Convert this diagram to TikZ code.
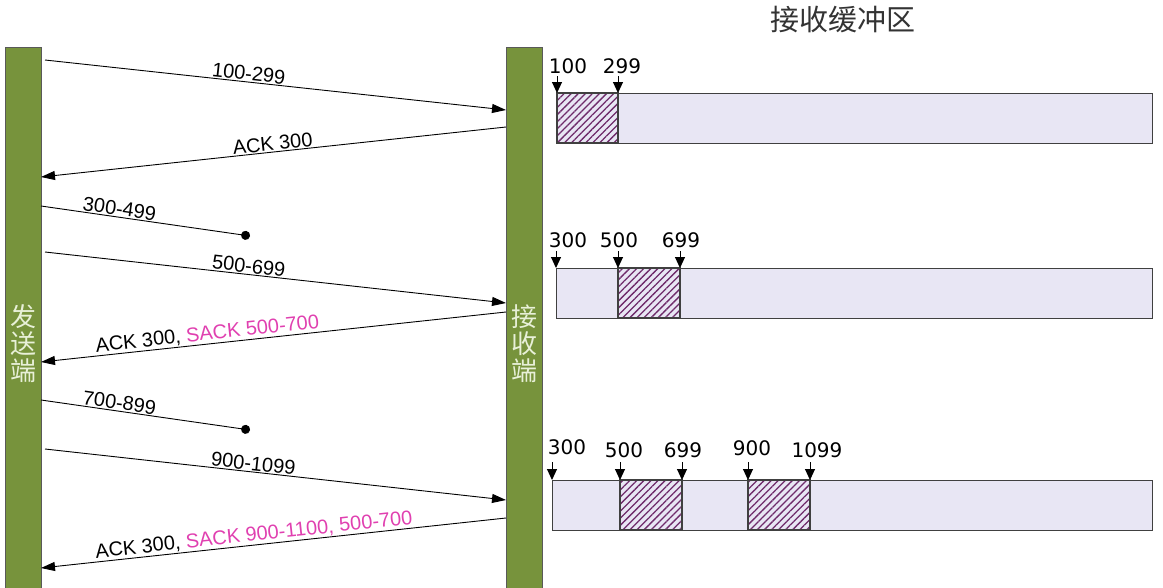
\documentclass[tikz,border=0pt]{standalone}
\usepackage{fontspec}
\setmainfont{Liberation Sans}
\newfontfamily\numfont{DejaVu Sans}
\newfontfamily\cjk{Noto Sans CJK SC}
\usetikzlibrary{arrows.meta, positioning, calc, patterns.meta}
\definecolor{barfill}{HTML}{77933C}
\definecolor{barlabel}{HTML}{E8F0D8}
\definecolor{buffill}{HTML}{E8E6F4}
\definecolor{hatchbg}{HTML}{F2DAF0}
\definecolor{hatchline}{HTML}{6E2A6A}
\definecolor{sackpink}{HTML}{E040B0}

\begin{document}
\begin{tikzpicture}[
    x=1pt, y=-1pt,
    hostbar/.style={draw=gray!70!black, fill=barfill, line width=0.8pt,
                    minimum width=36pt, minimum height=545pt, inner sep=0pt,
                    anchor=north west},
    hostname/.style={text=barlabel, font=\cjk\fontsize{26}{27}\selectfont,
                     align=center, inner sep=0pt},
    msg/.style={-{Triangle[length=14pt, width=9pt]}, line width=0.9pt},
    lost/.style={-{Circle[length=9pt]}, line width=0.9pt},
    msglabel/.style={font=\fontsize{20}{23}\selectfont, inner sep=1pt},
    buffer/.style={draw=black!75, fill=buffill, line width=1.2pt,
                   anchor=north west, minimum height=50pt, inner sep=0pt},
    recvd/.style={draw=black!75, fill=hatchbg, line width=1.2pt,
                  pattern={Lines[angle=45, distance=5pt, line width=1.3pt]},
                  pattern color=hatchline},
    seqno/.style={font=\numfont\fontsize{20}{23}\selectfont, inner sep=0pt},
    tick/.style={-{Triangle[length=11pt, width=10pt]}, line width=1pt},
]
    \useasboundingbox (0,0) rectangle (1163,587);

    % Sender and receiver
    \node[hostbar] (snd) at (5,47) {};
    \node[hostbar] (rcv) at (506,47) {};
    \node[hostname] (sndname) at (23,344) {发\\送\\端};
    \node[hostname] (rcvname) at (524,344) {接\\收\\端};

    % Message end points
    \coordinate (s1) at (45,60);   \coordinate (r1) at (506,110);
    \coordinate (r2) at (506,127); \coordinate (s2) at (41,177);
    \coordinate (s3) at (41,206);  \coordinate (d3) at (250,236);
    \coordinate (s4) at (45,252);  \coordinate (r4) at (506,303);
    \coordinate (r5) at (506,312); \coordinate (s5) at (41,362);
    \coordinate (s6) at (41,400);  \coordinate (d6) at (250,430);
    \coordinate (s7) at (45,449);  \coordinate (r7) at (506,500);
    \coordinate (r8) at (506,518); \coordinate (s8) at (41,568);

    % Messages
    \draw[msg] (s1) -- node[msglabel, sloped, above, pos=0.44] {100-299} (r1);
    \draw[msg] (r2) -- node[msglabel, sloped, above, pos=0.50] {ACK 300} (s2);
    \draw[lost] (s3) -- node[msglabel, sloped, above, pos=0.37] {300-499} (d3);
    \draw[msg] (s4) -- node[msglabel, sloped, above, pos=0.44] {500-699} (r4);
    \draw[msg] (r5) -- node[msglabel, sloped, above, pos=0.64]
        {ACK 300, \textcolor{sackpink}{SACK 500-700}} (s5);
    \draw[lost] (s6) -- node[msglabel, sloped, above, pos=0.37] {700-899} (d6);
    \draw[msg] (s7) -- node[msglabel, sloped, above, pos=0.45] {900-1099} (r7);
    \draw[msg] (r8) -- node[msglabel, sloped, above, pos=0.54]
        {ACK 300, \textcolor{sackpink}{SACK 900-1100, 500-700}} (s8);

    % Receive buffer
    \node[font=\cjk\fontsize{29}{32}\selectfont, text=black!80] (title) at (843,20) {接收缓冲区};

    \node[buffer, minimum width=595pt] (buf1) at (557,93) {};
    \draw[recvd] (557,93) rectangle (618,143);
    \node[seqno] (n100) at (568,66) {100};
    \node[seqno] (n299) at (622,66) {299};
    \coordinate (t100) at (557,76); \coordinate (t299) at (618,76);
    \draw[tick] (t100) -- (t100 |- buf1.north);
    \draw[tick] (t299) -- (t299 |- buf1.north);

    \node[buffer, minimum width=596pt] (buf2) at (556,268) {};
    \draw[recvd] (618,268) rectangle (680,318);
    \node[seqno] (m300) at (568,240) {300};
    \node[seqno] (m500) at (619,240) {500};
    \node[seqno] (m699) at (681,240) {699};
    \foreach \x/\n in {556/a, 618/b, 680/c} {
        \coordinate (u\n) at (\x,251);
        \draw[tick] (u\n) -- (u\n |- buf2.north);
    }

    \node[buffer, minimum width=600pt] (buf3) at (552,480) {};
    \draw[recvd] (620,480) rectangle (682,530);
    \draw[recvd] (748,480) rectangle (810,530);
    \node[seqno] (k300) at (567,447) {300};
    \node[seqno] (k500) at (624,450) {500};
    \node[seqno] (k699) at (683,450) {699};
    \node[seqno] (k900) at (752,448) {900};
    \node[seqno] (k1099) at (817,450) {1099};
    \foreach \x/\n in {552/a, 620/b, 682/c, 748/d, 810/e} {
        \coordinate (v\n) at (\x,462);
        \draw[tick] (v\n) -- (v\n |- buf3.north);
    }
\end{tikzpicture}
\end{document}
